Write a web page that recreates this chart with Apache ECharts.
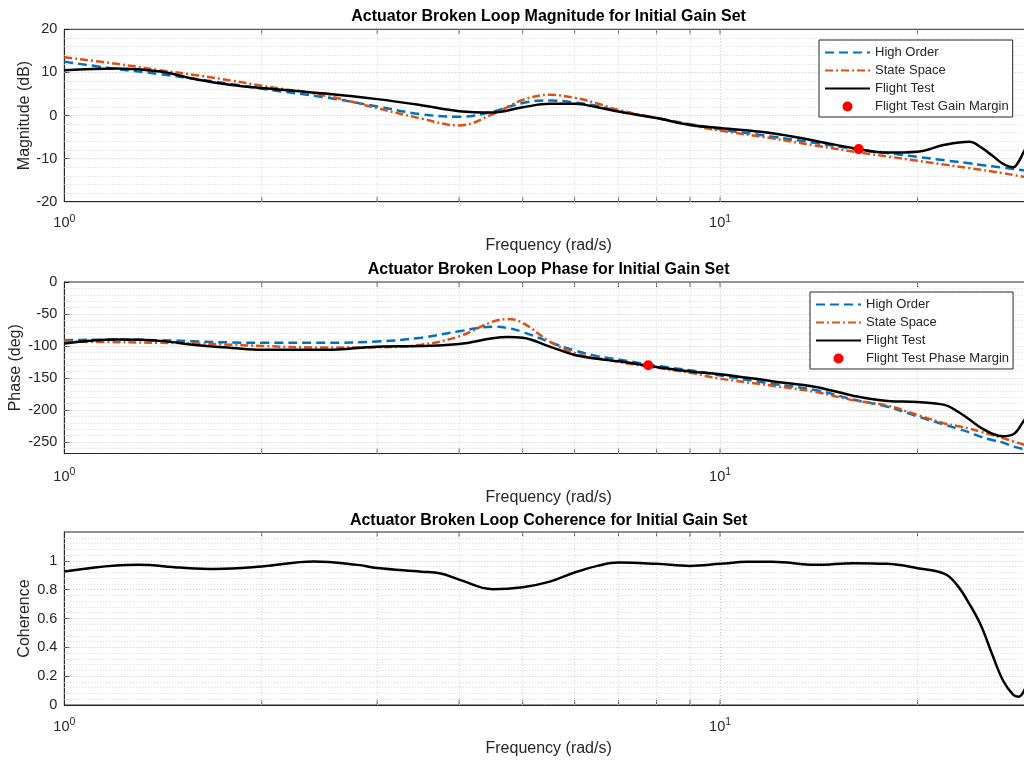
<!DOCTYPE html>
<html>
<head>
<meta charset="utf-8">
<script src="https://cdn.jsdelivr.net/npm/echarts@6/dist/echarts.min.js"></script>
<style>
  html, body { margin: 0; padding: 0; background: #ffffff; }
  #chart { width: 1024px; height: 761px; }
</style>
</head>
<body>
<div id="chart"></div>
<script>
// ---- Broken-loop magnitude (dB) ----
const magFreq        = [1, 1.2, 1.4, 1.6, 1.8, 2, 2.5, 3, 3.5, 4, 4.5, 5, 5.5, 6, 6.5, 7, 8, 9, 10, 12, 14, 16, 18, 20, 22, 24, 25, 26, 27, 28, 28.5, 29, 30];
const magHighOrder   = [12.5, 10.8, 9.6, 8.4, 7.3, 6.2, 4.2, 2.1, 0.3, -0.3, 0.9, 2.9, 3.5, 3.0, 2.2, 1.0, -0.6, -2.0, -3.2, -4.9, -6.4, -7.7, -8.7, -9.6, -10.4, -11.1, -11.5, -11.8, -12.1, -12.4, -12.55, -12.7, -13.0];
const magStateSpace  = [13.5, 12.0, 10.5, 9.3, 8.1, 6.9, 4.6, 1.7, -0.7, -2.3, 0.3, 3.6, 4.8, 4.1, 2.8, 1.3, -0.6, -2.2, -3.5, -5.3, -7.0, -8.4, -9.5, -10.5, -11.4, -12.2, -12.6, -13.0, -13.4, -13.8, -14.0, -14.2, -14.6];
const magFlightTest  = [10.5, 10.9, 10.2, 8.3, 7.1, 6.4, 5.1, 3.8, 2.4, 1.0, 0.7, 1.9, 2.7, 2.7, 1.9, 0.9, -0.6, -2.2, -2.9, -4.1, -5.9, -7.6, -8.6, -8.4, -6.8, -6.1, -7.4, -9.3, -11.2, -12.0, -10.8, -8.6, -4.5];
const gainMarginFreq = [16.27];
const gainMarginDb   = [-7.8];

// ---- Broken-loop phase (deg) ----
const phaseFreq        = [1, 1.2, 1.4, 1.6, 1.8, 2, 2.5, 3, 3.5, 4, 4.5, 4.75, 5, 5.5, 6, 6.5, 7, 8, 9, 10, 12, 14, 16, 18, 20, 22, 23, 24, 25, 26, 27, 28, 29, 30];
const phaseHighOrder   = [-91, -90, -91, -93, -94.5, -95, -95, -93, -87, -77, -70, -72, -78, -94, -107, -116, -121, -131, -138, -146, -159, -169, -184, -195, -210, -223, -229, -235, -242, -247, -251, -257, -261, -264];
const phaseStateSpace  = [-93, -94, -95, -96, -98, -100, -102.5, -102, -98, -85, -62, -58, -64, -93, -111, -119, -125, -134, -142, -151, -162, -172, -185, -193, -208, -221, -225, -229, -234, -239, -244, -249, -254, -258];
const phaseFlightTest  = [-96, -90, -92, -99, -103, -106, -106, -101, -100, -97, -88, -86, -87, -101, -114, -120, -124, -133, -140, -144, -155, -164, -178, -186, -187.5, -192, -202, -215, -228, -237, -241, -238, -218, -195];
const phaseMarginFreq  = [7.77];
const phaseMarginDeg   = [-130];

// ---- Coherence ----
const cohFreq       = [1, 1.2, 1.3, 1.5, 1.7, 2, 2.4, 2.8, 3, 3.5, 3.75, 4, 4.5, 5, 5.5, 6, 6.5, 7, 8, 9, 10, 11, 12, 14, 16, 18, 20, 22, 23, 24, 25, 26, 27, 28, 28.5, 29, 30];
const cohFlightTest = [0.926, 0.968, 0.972, 0.953, 0.944, 0.961, 0.995, 0.972, 0.95, 0.925, 0.912, 0.87, 0.803, 0.817, 0.856, 0.919, 0.965, 0.988, 0.979, 0.965, 0.979, 0.993, 0.993, 0.972, 0.984, 0.979, 0.949, 0.91, 0.83, 0.70, 0.55, 0.35, 0.17, 0.07, 0.058, 0.09, 0.25];

// ---- Axis tick labels ----
const magTicks   = [-20, -10, 0, 10, 20];
const phaseTicks = [-250, -200, -150, -100, -50, 0];
const cohTicks   = [0, 0.2, 0.4, 0.6, 0.8, 1];
const freqDecades = [1, 10];
const freqMinorTicks = [2, 3, 4, 5, 6, 7, 8, 9, 10, 20];

const titles = [
  'Actuator Broken Loop Magnitude for Initial Gain Set',
  'Actuator Broken Loop Phase for Initial Gain Set',
  'Actuator Broken Loop Coherence for Initial Gain Set'
];
const yNames = ['Magnitude (dB)', 'Phase (deg)', 'Coherence'];
const xName = 'Frequency (rad/s)';

const INK = '#262626';
const FONT = '"Liberation Sans", Arial, Helvetica, sans-serif';
const BLUE = '#0072BD', ORANGE = '#D95319', BLACK = '#000000', RED = '#FF0000';

const pairs = (xs, ys) => xs.map((x, i) => [x, ys[i]]);
function steps(a, b, s) {
  const out = [];
  for (let k = 0; a + k * s <= b + 1e-9; k++) out.push(+(a + k * s).toFixed(4));
  return out;
}

// layout of the three axes boxes (pixels)
const panels = [
  { top: 29.3, height: 172.4, yMin: -20,  yMax: 20,  minorStep: 2,    majorStep: 10,  ticks: magTicks,   labelMargin: 11.5, titleTop: 9,     nameGap: 32 },
  { top: 282,  height: 171.5, yMin: -268, yMax: 0,   minorStep: 10,   majorStep: 50,  ticks: phaseTicks, labelMargin: 13.5, titleTop: 261.5, nameGap: 41 },
  { top: 532,  height: 173,   yMin: 0,    yMax: 1.2, minorStep: 0.04, majorStep: 0.2, ticks: cohTicks,   labelMargin: 12,   titleTop: 512.5, nameGap: 32 }
];

const grids = [], xAxes = [], yAxes = [], series = [], titleOpts = [];

const minorLine = { color: '#d7d7d7', width: 1, type: [1, 2] };
const majorLine = { color: '#c4c4c4', width: 1, type: [1, 2] };

panels.forEach((p, i) => {
  grids.push({
    left: 64.3, right: -9, top: p.top, height: p.height,
    outerBoundsMode: 'none', containLabel: false,
    show: true, borderColor: INK, borderWidth: 1, backgroundColor: '#ffffff'
  });
  xAxes.push({
    gridIndex: i, type: 'log', logBase: 10, min: 1, max: 30,
    name: xName, nameLocation: 'middle', nameGap: 36, nameMoveOverlap: false,
    nameTextStyle: { fontSize: 16, color: INK, fontFamily: FONT },
    axisLine: { show: true, onZero: false, lineStyle: { color: INK, width: 1 } },
    axisTick: { show: false },
    splitLine: { show: false },
    axisLabel: {
      margin: p.labelMargin, color: INK, fontFamily: FONT,
      formatter: v => {
        const k = freqDecades.indexOf(Math.round(v * 1000) / 1000);
        return k < 0 ? '' : '{b|10}{s|' + k + '}';
      },
      rich: {
        b: { fontSize: 14.5, color: INK, fontFamily: FONT },
        s: { fontSize: 10.5, color: INK, fontFamily: FONT, padding: [0, 0, 8, 0] }
      }
    }
  });
  yAxes.push({
    gridIndex: i, type: 'value', min: p.yMin, max: p.yMax,
    name: yNames[i], nameLocation: 'middle', nameGap: p.nameGap, nameRotate: 90, nameMoveOverlap: false,
    nameTextStyle: { fontSize: 16, color: INK, fontFamily: FONT },
    axisLine: { show: true, onZero: false, lineStyle: { color: INK, width: 1 } },
    axisTick: { show: true, inside: true, length: 5, lineStyle: { color: INK }, customValues: p.ticks },
    splitLine: { show: false },
    axisLabel: {
      margin: 7, fontSize: 14.5, color: INK, fontFamily: FONT, customValues: p.ticks,
      formatter: v => String(+v.toFixed(2))
    }
  });
  titleOpts.push({
    text: titles[i], left: 548.6, top: p.titleTop, textAlign: 'center', padding: 0,
    textStyle: { fontSize: 16, fontWeight: 'bold', color: BLACK, fontFamily: FONT }
  });

  // dotted grid lines drawn through the axis scales
  const gridData = [];
  steps(p.yMin, p.yMax, p.minorStep).forEach(v => {
    const r = Math.round(v / p.minorStep) * p.minorStep;
    if (r <= p.yMin + 1e-9 || r >= p.yMax - 1e-9) return;
    const isMajor = Math.abs(r / p.majorStep - Math.round(r / p.majorStep)) < 1e-6;
    gridData.push({ yAxis: +r.toFixed(4), lineStyle: isMajor ? majorLine : minorLine });
  });
  freqMinorTicks.forEach(f => {
    gridData.push({ xAxis: f, lineStyle: freqDecades.indexOf(f) >= 0 ? majorLine : minorLine });
  });
  series.push({
    type: 'line', name: '_grid' + i, xAxisIndex: i, yAxisIndex: i, data: [],
    silent: true, z: 1, animation: false,
    markLine: { silent: true, symbol: ['none', 'none'], label: { show: false }, animation: false, data: gridData }
  });

  // minor frequency ticks along the bottom and top edges
  series.push({
    type: 'scatter', name: '_tb' + i, xAxisIndex: i, yAxisIndex: i, silent: true, z: 4, animation: false,
    symbol: 'rect', symbolSize: [1, 5], symbolOffset: [0, -2.5], itemStyle: { color: INK },
    data: freqMinorTicks.map(f => [f, p.yMin])
  });
  series.push({
    type: 'scatter', name: '_tt' + i, xAxisIndex: i, yAxisIndex: i, silent: true, z: 4, animation: false,
    symbol: 'rect', symbolSize: [1, 5], symbolOffset: [0, 2.5], itemStyle: { color: INK },
    data: freqMinorTicks.map(f => [f, p.yMax])
  });
});

function curve(name, idx, xs, ys, color, dash) {
  return {
    type: 'line', name, xAxisIndex: idx, yAxisIndex: idx,
    data: pairs(xs, ys), symbol: 'none', smooth: 0.4,
    lineStyle: { color, width: 2.5, type: dash || 'solid' },
    itemStyle: { color }, z: 5, animation: false
  };
}
function marginPoint(name, idx, xs, ys) {
  return {
    type: 'scatter', name, xAxisIndex: idx, yAxisIndex: idx,
    data: pairs(xs, ys), symbol: 'circle', symbolSize: 10,
    itemStyle: { color: RED, borderWidth: 0, opacity: 1 }, z: 8, animation: false
  };
}

const dashHO = [9, 5];
const dashSS = [8, 3, 2, 3];

series.push(
  curve('High Order', 0, magFreq, magHighOrder, BLUE, dashHO),
  curve('State Space', 0, magFreq, magStateSpace, ORANGE, dashSS),
  curve('Flight Test', 0, magFreq, magFlightTest, BLACK),
  marginPoint('Flight Test Gain Margin', 0, gainMarginFreq, gainMarginDb),
  curve('High Order', 1, phaseFreq, phaseHighOrder, BLUE, dashHO),
  curve('State Space', 1, phaseFreq, phaseStateSpace, ORANGE, dashSS),
  curve('Flight Test', 1, phaseFreq, phaseFlightTest, BLACK),
  marginPoint('Flight Test Phase Margin', 1, phaseMarginFreq, phaseMarginDeg),
  curve('Flight Test', 2, cohFreq, cohFlightTest, BLACK)
);

// legend glyph for the margin markers: a round dot centred in the sample box
const DOT_ICON = 'path://M0,0L0.001,0M45,12L45.001,12M17.5,6A5,5,0,1,1,27.5,6A5,5,0,1,1,17.5,6Z';
const lineEntry = name => ({ name, itemStyle: { opacity: 0 } });
const dotEntry = name => ({ name, icon: DOT_ICON });

function legendAt(left, top, names) {
  return {
    orient: 'vertical', left, top, z: 20,
    itemWidth: 45, itemHeight: 12, itemGap: 5,
    padding: [6, 4, 4, 5],
    backgroundColor: '#ffffff', borderColor: INK, borderWidth: 1, borderRadius: 0,
    selectedMode: false,
    textStyle: { fontSize: 13, color: INK, fontFamily: FONT },
    data: names
  };
}

const option = {
  animation: false,
  backgroundColor: '#ffffff',
  textStyle: { fontFamily: FONT },
  title: titleOpts,
  grid: grids,
  xAxis: xAxes,
  yAxis: yAxes,
  legend: [
    legendAt(819, 40, [lineEntry('High Order'), lineEntry('State Space'), lineEntry('Flight Test'), dotEntry('Flight Test Gain Margin')]),
    legendAt(810, 292, [lineEntry('High Order'), lineEntry('State Space'), lineEntry('Flight Test'), dotEntry('Flight Test Phase Margin')])
  ],
  series
};

const chart = echarts.init(document.getElementById('chart'), null, { renderer: 'canvas' });
chart.setOption(option);
</script>
</body>
</html>
